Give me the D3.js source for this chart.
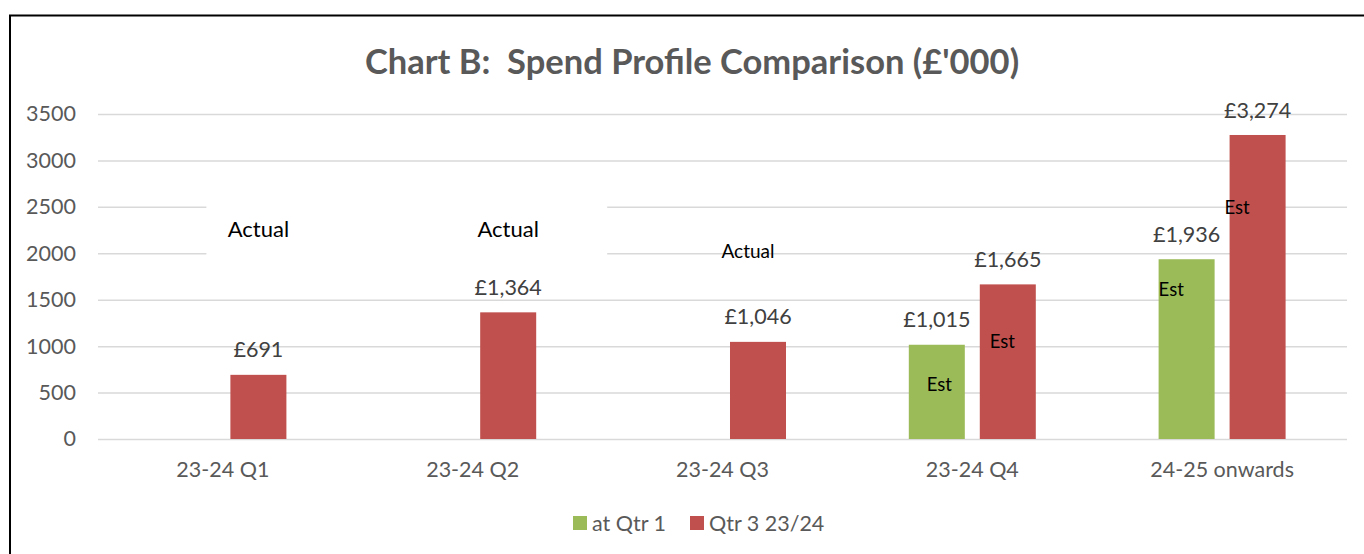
<!DOCTYPE html>
<html>
<head>
<meta charset="utf-8">
<script src="https://cdn.jsdelivr.net/npm/d3@7"></script>
<style>
  body { margin: 0; background: #fff; }
  svg { display: block; font-family: Lato, "Noto Sans", sans-serif; }
</style>
</head>
<body>
<div id="chart"></div>
<script>
// categories and series
var categories = ["23-24 Q1", "23-24 Q2", "23-24 Q3", "23-24 Q4", "24-25 onwards"];
var seriesNames = ["at Qtr 1", "Qtr 3 23/24"];
var atQtr1 = [null, null, null, 1015, 1936];
var qtr3 = [691, 1364, 1046, 1665, 3274];
var yTicks = [0, 500, 1000, 1500, 2000, 2500, 3000, 3500];

// text notes placed on the chart (category, series, value level)
var actualNotes = [
  {cat: "23-24 Q1", level: 2262, big: true},
  {cat: "23-24 Q2", level: 2262, big: true},
  {cat: "23-24 Q3", level: 2025, big: false}
];
var estNotes = [
  {cat: "23-24 Q4", series: "at Qtr 1", level: 592},
  {cat: "23-24 Q4", series: "Qtr 3 23/24", level: 1045},
  {cat: "24-25 onwards", series: "at Qtr 1", level: 1615},
  {cat: "24-25 onwards", series: "Qtr 3 23/24", level: 2488}
];

var width = 1364, height = 554;
var margin = {top: 114, right: 17, bottom: 115, left: 98};
var labelSize = "21.5px";

var svg = d3.select("#chart").append("svg")
    .attr("width", width)
    .attr("height", height);

// outer frame (right and bottom edges run off the page)
svg.append("rect")
    .attr("x", 10).attr("y", 15.5)
    .attr("width", 1400).attr("height", 600)
    .attr("fill", "none")
    .attr("stroke", "#000")
    .attr("stroke-width", 2);

var colorScale = d3.scaleOrdinal()
    .domain(seriesNames)
    .range(["#9BBB59", "#C0504D"]);

var x0 = d3.scaleBand()
    .domain(categories)
    .range([margin.left, width - margin.right])
    .paddingInner(0.4916)
    .paddingOuter(0.2458);

var x1 = d3.scaleBand()
    .domain(seriesNames)
    .range([0, x0.bandwidth()])
    .paddingInner(0.211);

var y = d3.scaleLinear()
    .domain([0, 3500])
    .range([height - margin.bottom, margin.top]);

// title
svg.append("text")
    .attr("x", 692)
    .attr("y", 74)
    .attr("text-anchor", "middle")
    .attr("fill", "#595959")
    .style("font-size", "34.5px")
    .style("font-weight", "bold")
    .text("Chart B:\u00a0\u00a0Spend Profile Comparison (£'000)");

// gridlines
svg.append("g")
    .selectAll("line")
    .data(yTicks)
    .enter()
    .append("line")
        .attr("x1", margin.left)
        .attr("x2", width - margin.right)
        .attr("y1", function(d) {return y(d) + 0.5})
        .attr("y2", function(d) {return y(d) + 0.5})
        .attr("stroke", "#D9D9D9")
        .attr("stroke-width", 1.5);

// y axis labels
svg.append("g")
    .attr("transform", "translate(" + (margin.left - 22) + ",0)")
    .call(d3.axisLeft(y).tickValues(yTicks).tickFormat(d3.format("d")).tickSize(0).tickPadding(0))
    .call(function(g) {g.select(".domain").remove()})
    .call(function(g) {
        g.selectAll("text")
            .attr("fill", "#595959")
            .style("font-size", labelSize)
            .style("font-family", "Lato, 'Noto Sans', sans-serif");
    });

// x axis labels
svg.append("g")
    .attr("transform", "translate(0," + (height - margin.bottom) + ")")
    .call(d3.axisBottom(x0).tickSize(0).tickPadding(23))
    .call(function(g) {g.select(".domain").remove()})
    .call(function(g) {
        g.selectAll("text")
            .attr("fill", "#595959")
            .style("font-size", labelSize)
            .style("font-family", "Lato, 'Noto Sans', sans-serif");
    });

// build rows for the bars
var rows = [];
categories.forEach(function(c, i) {
    rows.push({cat: c, series: "at Qtr 1", value: atQtr1[i]});
    rows.push({cat: c, series: "Qtr 3 23/24", value: qtr3[i]});
});
rows = rows.filter(function(d) {return d.value != null});

function barX(d) {return x0(d.cat) + x1(d.series)}

// white box behind the first two "Actual" notes
var boxLeft = x0("23-24 Q1") + x1("Qtr 3 23/24") - 24;
var boxRight = x0("23-24 Q2") + x1("Qtr 3 23/24") + x1.bandwidth() + 71;
svg.append("rect")
    .attr("x", boxLeft)
    .attr("y", y(2620))
    .attr("width", boxRight - boxLeft)
    .attr("height", y(1900) - y(2620))
    .attr("fill", "#fff");

// bars
svg.append("g")
    .selectAll("rect")
    .data(rows)
    .enter()
    .append("rect")
        .attr("x", barX)
        .attr("y", function(d) {return y(d.value)})
        .attr("width", x1.bandwidth())
        .attr("height", function(d) {return y(0) - y(d.value)})
        .attr("fill", function(d) {return colorScale(d.series)});

// value labels
svg.append("g")
    .selectAll("text")
    .data(rows)
    .enter()
    .append("text")
        .attr("x", function(d) {return barX(d) + x1.bandwidth() / 2})
        .attr("y", function(d) {return y(d.value) - 25})
        .attr("dy", "0.35em")
        .attr("text-anchor", "middle")
        .attr("fill", "#404040")
        .style("font-size", labelSize)
        .text(function(d) {return "£" + d3.format(",")(d.value)});

// "Actual" notes
svg.append("g")
    .selectAll("text")
    .data(actualNotes)
    .enter()
    .append("text")
        .attr("x", function(d) {
            var cx = x0(d.cat) + x1("Qtr 3 23/24") + x1.bandwidth() / 2;
            return d.big ? cx : cx - 10;
        })
        .attr("y", function(d) {return y(d.level)})
        .attr("dy", "0.35em")
        .attr("text-anchor", "middle")
        .attr("fill", "#000")
        .style("font-size", function(d) {return d.big ? "22px" : "19px"})
        .text("Actual");

// "Est" notes
var estShift = [18, 10, 0, -5];
svg.append("g")
    .selectAll("text")
    .data(estNotes)
    .enter()
    .append("text")
        .attr("x", function(d, i) {return x0(d.cat) + x1(d.series) + estShift[i]})
        .attr("y", function(d) {return y(d.level)})
        .attr("dy", "0.35em")
        .attr("fill", "#000")
        .style("font-size", "18.5px")
        .text("Est");

// legend
var legend = svg.append("g")
    .selectAll("g")
    .data(seriesNames)
    .enter()
    .append("g")
        .attr("transform", function(d, i) {return "translate(" + [573, 690][i] + ",523)"});

legend.append("rect")
    .attr("x", 0).attr("y", -7)
    .attr("width", 14).attr("height", 14)
    .attr("fill", function(d) {return colorScale(d)});

legend.append("text")
    .attr("x", 19)
    .attr("dy", "0.35em")
    .attr("fill", "#595959")
    .style("font-size", labelSize)
    .text(function(d) {return d});
</script>
</body>
</html>
